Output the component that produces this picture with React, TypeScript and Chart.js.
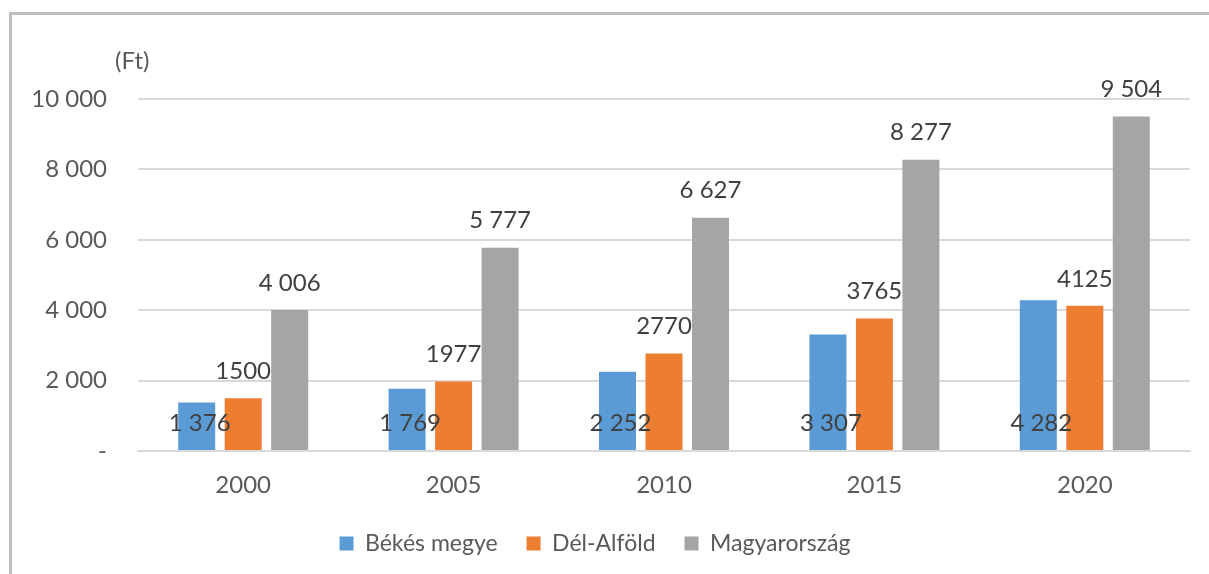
import React, { useEffect, useRef } from "react";
import { Chart, registerables } from "chart.js";

Chart.register(...registerables);

const categories = ["2000", "2005", "2010", "2015", "2020"];
const bekesValues = [1376, 1769, 2252, 3307, 4282];
const delAlfoldValues = [1500, 1977, 2770, 3765, 4125];
const magyarorszagValues = [4006, 5777, 6627, 8277, 9504];
const seriesNames = ["Békés megye", "Dél-Alföld", "Magyarország"];
const yTickValues = [0, 2000, 4000, 6000, 8000, 10000];
const unitLabel = "(Ft)";

const FONT = "Lato, 'Open Sans', sans-serif";
const TEXT = "#595959";
const LABEL_TEXT = "#404040";

const spaced = (v: number) => String(v).replace(/\B(?=(\d{3})+(?!\d))/g, " ");
const plain = (v: number) => String(v);

const framePlugin = {
  id: "frame",
  beforeDraw(chart: any) {
    const ctx = chart.ctx;
    ctx.save();
    ctx.fillStyle = "#ffffff";
    ctx.fillRect(0, 0, chart.width, chart.height);
    ctx.strokeStyle = "#bfbfbf";
    ctx.lineWidth = 3;
    ctx.strokeRect(10.5, 13.5, 1400, 800);
    ctx.restore();
  },
  afterDraw(chart: any) {
    const ctx = chart.ctx;
    ctx.save();
    ctx.font = `24px ${FONT}`;
    ctx.fillStyle = TEXT;
    ctx.textAlign = "left";
    ctx.textBaseline = "middle";
    ctx.fillText(unitLabel, 115, 61);
    ctx.restore();
  },
};

const labelPlugin = {
  id: "barLabels",
  afterDatasetsDraw(chart: any) {
    const ctx = chart.ctx;
    ctx.save();
    ctx.font = `24px ${FONT}`;
    ctx.fillStyle = LABEL_TEXT;
    ctx.textAlign = "center";
    ctx.textBaseline = "middle";
    chart.data.datasets.forEach((ds: any, di: number) => {
      const meta = chart.getDatasetMeta(di);
      meta.data.forEach((bar: any, i: number) => {
        const v = ds.data[i] as number;
        const txt = ds.labelFormat(v);
        if (ds.labelPos === "base") {
          ctx.fillText(txt, bar.x + 3, bar.base - 27);
        } else {
          ctx.fillText(txt, bar.x, bar.y - 27);
        }
      });
    });
    ctx.restore();
  },
};

export default function App() {
  const ref = useRef<HTMLCanvasElement>(null);
  useEffect(() => {
    if (!ref.current) return;
    const chart = new Chart(ref.current, {
      type: "bar",
      data: {
        labels: categories,
        datasets: [
          { label: seriesNames[0], data: bekesValues, backgroundColor: "#5B9BD5", labelFormat: spaced, labelPos: "base" } as any,
          { label: seriesNames[1], data: delAlfoldValues, backgroundColor: "#ED7D31", labelFormat: plain, labelPos: "end" } as any,
          { label: seriesNames[2], data: magyarorszagValues, backgroundColor: "#A5A5A5", labelFormat: spaced, labelPos: "end" } as any,
        ],
      },
      options: {
        animation: false,
        responsive: true,
        maintainAspectRatio: false,
        categoryPercentage: 0.663,
        barPercentage: 0.796,
        layout: { padding: { left: 0, right: 19, top: 99, bottom: 9 } },
        plugins: {
          legend: {
            position: "bottom",
            labels: {
              boxWidth: 14,
              boxHeight: 14,
              padding: 29,
              color: TEXT,
              font: { family: FONT, size: 23 },
            },
          },
          tooltip: { enabled: false },
        },
        scales: {
          x: {
            afterFit(scale: any) {
              scale.height = 52;
            },
            grid: { display: false, drawTicks: false },
            border: { display: true, color: "#d9d9d9", width: 2 },
            ticks: { color: TEXT, font: { family: FONT, size: 24 }, padding: 20 },
          },
          y: {
            min: 0,
            max: 10000,
            afterFit(scale: any) {
              scale.width = 138;
            },
            afterBuildTicks(scale: any) {
              scale.ticks = yTickValues.map((v) => ({ value: v }));
            },
            grid: { color: "#d9d9d9", lineWidth: 2, drawTicks: false },
            border: { display: false },
            ticks: {
              color: TEXT,
              font: { family: FONT, size: 24 },
              padding: 31,
              callback: (v: any) => (Number(v) === 0 ? "-" : spaced(Number(v))),
            },
          },
        },
      } as any,
      plugins: [framePlugin, labelPlugin],
    });
    return () => chart.destroy();
  }, []);
  return (
    <div style={{ position: "absolute", left: 0, top: 0, width: 1209, height: 574 }}>
      <canvas ref={ref} />
    </div>
  );
}
